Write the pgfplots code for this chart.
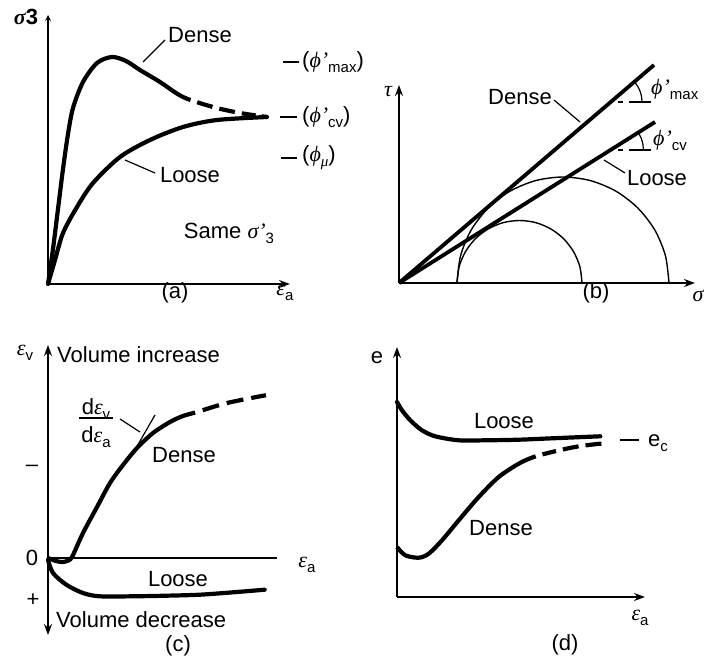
\documentclass[border=0pt]{standalone}
\usepackage{fontspec}
\setmainfont{Liberation Sans}
\newfontfamily\grk{Liberation Serif}
\newcommand\g[1]{{\grk\itshape #1}}
\usepackage{pgfplots}
\pgfplotsset{compat=1.18}
\usetikzlibrary{arrows.meta}

\tikzset{
  lab/.style={font=\fontsize{22}{26}\selectfont, inner sep=0pt},
  arr/.style={-{Stealth[length=11pt,width=8pt]}},
  thinline/.style={black, line width=1.2pt},
}
\pgfplotsset{
  panel/.style={x=1pt, y=1pt, enlargelimits=false, clip=false,
    axis lines=left, xtick=\empty, ytick=\empty,
    axis line style={line width=1.6pt},
    anchor=south west},
  curve/.style={black, line width=4.2pt, smooth, no marks, line cap=round},
  % solid for the measured part, then dashed to the end
  dcurve/.style={curve, line cap=butt, dash pattern=#1},
}
\newcommand\sub[1]{\raisebox{-5pt}{\fontsize{15}{15}\selectfont #1}}

\begin{document}
\begin{tikzpicture}
\useasboundingbox (0pt,0pt) rectangle (704pt,-661pt);

% (a) stress ratio
\begin{axis}[panel, at={(48pt,-284pt)}, xmin=0, xmax=242, ymin=0, ymax=269,
  x axis line style={arr}]
  \addplot[dcurve={on 336pt off 7pt on 16pt off 7pt on 16pt off 7pt on 14pt off 6pt on 30pt off 200pt}]
    coordinates {(0,0) (5,35) (10,75) (15,115) (20,150) (25,176) (35,202) (49,221) (64,227) (78,223) (92,214) (112,202) (135,187) (165,177) (192,171) (219,167)};
  \addplot[curve] coordinates {(0,0) (7,24) (15,51) (29,77) (45,101) (72,127) (102,144) (135,157) (169,164) (219,167)};
  \draw[thinline] (axis cs:117,244) -- (axis cs:95,222);
  \draw[thinline] (axis cs:107,111) -- (axis cs:77,124);
  \draw[thinline] (axis cs:235,222) -- (axis cs:251,222);
  \draw[thinline] (axis cs:232,167) -- (axis cs:249,167);
  \draw[thinline] (axis cs:233,126) -- (axis cs:249,126);
  \node[lab] at (axis cs:152,249) {Dense};
  \node[lab] at (axis cs:142,109) {Loose};
  \node[lab, anchor=west] at (axis cs:254,222) {(\g{ϕ’}\sub{max})};
  \node[lab, anchor=west] at (axis cs:254,167) {(\g{ϕ’}\sub{cv})};
  \node[lab, anchor=west] at (axis cs:254,126) {(\g{ϕ}\sub{\g{μ}})};
  \node[lab] at (axis cs:181,51) {Same \g{σ’}\sub{3}};
  \node[lab] at (axis cs:127,-9) {(a)};
  \node[lab] at (axis cs:237,-9) {\g{ε}\sub{a}};
  \node[lab] at (axis cs:-22,267) {\bfseries\g{σ}3};
\end{axis}

% (b) Mohr circles
\begin{axis}[panel, at={(399pt,-283pt)}, xmin=0, xmax=296, ymin=0, ymax=198,
  x axis line style={arr}, y axis line style={arr}]
  \addplot[black, line width=3.8pt, no marks] coordinates {(0,0) (255,218)};
  \addplot[black, line width=3.8pt, no marks] coordinates {(0,0) (256,161)};
  \addplot[black, line width=1.4pt, smooth, no marks] coordinates {(270,0) (266.4,27.4) (255.8,53) (238.9,74.9) (217,91.8) (191.4,102.4) (164,106) (136.6,102.4) (111,91.8) (89.1,74.9) (72.2,53) (61.6,27.4) (58,0)};
  \addplot[black, line width=1.4pt, smooth, no marks] coordinates {(183,0) (180.9,16.2) (174.6,31.25) (164.7,44.2) (151.75,54.1) (136.7,60.4) (120.5,62.5) (104.3,60.4) (89.25,54.1) (76.3,44.2) (66.4,31.25) (60.1,16.2) (58,0)};
  % angle marks
  \addplot[thinline, smooth, no marks] coordinates {(243,181) (242.5,186.4) (241.1,191.6) (238.8,196.5) (235.6,201.1)};
  \addplot[thinline, smooth, no marks] coordinates {(244.4,133) (243.9,138.7) (242.4,144.3) (239.3,150.6)};
  \draw[thinline] (axis cs:219,181) -- (axis cs:224,181);
  \draw[thinline] (axis cs:230,181) -- (axis cs:252,181);
  \draw[thinline] (axis cs:219,133) -- (axis cs:224,133);
  \draw[thinline] (axis cs:230,133) -- (axis cs:252,133);
  \draw[thinline] (axis cs:155,183) -- (axis cs:181,161);
  \draw[thinline] (axis cs:226,110) -- (axis cs:205,123);
  \node[lab] at (axis cs:121,186) {Dense};
  \node[lab] at (axis cs:258,105) {Loose};
  \node[lab, anchor=west] at (axis cs:252,194) {\g{ϕ’}\sub{max}};
  \node[lab, anchor=west] at (axis cs:254,143) {\g{ϕ’}\sub{cv}};
  \node[lab] at (axis cs:-11,191) {\g{τ}};
  \node[lab] at (axis cs:299,-13) {\g{σ}};
  \node[lab] at (axis cs:197,-10) {(b)};
\end{axis}

% (c) volumetric strain
\begin{axis}[panel, axis lines=middle, at={(48pt,-635pt)}, xmin=0, xmax=229, ymin=-77, ymax=213,
  x axis line style={-}, y axis line style={{Stealth[length=11pt,width=8pt]}-{Stealth[length=11pt,width=8pt]}}]
  \addplot[dcurve={on 223pt off 8pt on 17pt off 8pt on 17pt off 8pt on 15pt off 7pt on 20pt off 200pt}]
    coordinates {(0,0) (8,-3) (14,-4) (19,-3) (24,1) (35,25) (49,51) (62,75) (75,93) (89,110) (105,125) (122,136) (135,142) (149,146) (179,155) (219,163)};
  \addplot[curve] coordinates {(0,-1.7) (5,-15) (18.3,-26.7) (35,-35) (51.7,-38.3) (85,-38.3) (118.3,-37.7) (151.7,-36.7) (185,-34.3) (216.7,-31.7)};
  \draw[thinline] (axis cs:84,103) -- (axis cs:107,143);
  \draw[thinline] (axis cs:72,139) -- (axis cs:92,126);
  \node[lab, anchor=west] at (axis cs:9,203) {Volume increase};
  \node[lab, anchor=west] at (axis cs:8,-62) {Volume decrease};
  \node[lab] at (axis cs:-23,205) {\g{ε}\sub{v}};
  \node[lab] at (axis cs:-16,0) {0};
  \node[lab] at (axis cs:-15,-42) {+};
  \node[lab] at (axis cs:-16,90) {\textendash};
  \node[lab] at (axis cs:48,149) {d\g{ε}\sub{v}};
  \draw[thinline] (axis cs:31,140) -- (axis cs:65,140);
  \node[lab] at (axis cs:48,121) {d\g{ε}\sub{a}};
  \node[lab] at (axis cs:136,103) {Dense};
  \node[lab] at (axis cs:130,-21) {Loose};
  \node[lab] at (axis cs:259,-7) {\g{ε}\sub{a}};
  \node[lab] at (axis cs:130,-88) {(c)};
\end{axis}

% (d) void ratio
\begin{axis}[panel, at={(397pt,-597pt)}, xmin=0, xmax=248, ymin=0, ymax=250,
  x axis line style={arr}, y axis line style={arr}]
  \addplot[curve] coordinates {(0,195) (5,186.7) (13.3,176.7) (25,166.7) (38.3,160.7) (61.7,156.7) (88.3,156.7) (121.7,157.3) (155,158.7) (203.3,160.7)};
  \addplot[dcurve={on 183pt off 7pt on 14pt off 7pt on 16pt off 7pt on 16pt off 6pt on 20pt off 200pt}]
    coordinates {(0,50) (8.3,41.7) (21.7,39.3) (31.7,43.3) (45,56.7) (61.7,76.7) (81.7,100) (101.7,120) (121.7,133.3) (136.7,140) (155,145) (181.7,150.7) (210,154)};
  \draw[thinline] (axis cs:223,157) -- (axis cs:242,157);
  \node[lab] at (axis cs:107,176) {Loose};
  \node[lab] at (axis cs:104,69) {Dense};
  \node[lab] at (axis cs:261,154) {e\sub{c}};
  \node[lab] at (axis cs:-20,239) {e};
  \node[lab] at (axis cs:243,-21) {\g{ε}\sub{a}};
  \node[lab] at (axis cs:168,-48) {(d)};
\end{axis}
\end{tikzpicture}
\end{document}
